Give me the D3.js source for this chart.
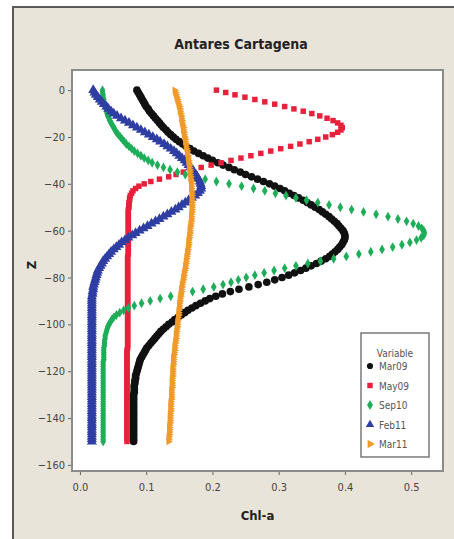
<!DOCTYPE html>
<html>
<head>
<meta charset="UTF-8">
<script src="https://d3js.org/d3.v7.min.js"></script>
<style>
  body { margin: 0; background: #fff; }
  text { font-family: "Liberation Sans Narrow", "DejaVu Sans Condensed", sans-serif; }
</style>
</head>
<body>
<svg id="chart" width="454" height="539"></svg>
<script>
// depth below surface (m), plotted as negative Z
var depth = [
  0,1,2,3,4,5,6,7,8,9, 10,11,12,13,14,15,16,17,18,19,
  20,21,22,23,24,25,26,27,28,29, 30,31,32,33,34,35,36,37,38,39,
  40,41,42,43,44,45,46,47,48,49, 50,51,52,53,54,55,56,57,58,59,
  60,61,62,63,64,65,66,67,68,69, 70,71,72,73,74,75,76,77,78,79,
  80,81,82,83,84,85,86,87,88,89, 90,91,92,93,94,95,96,97,98,99,
  100,101,102,103,104,105,106,107,108,109, 110,111,112,113,114,115,116,117,118,119,
  120,121,122,123,124,125,126,127,128,129, 130,131,132,133,134,135,136,137,138,139,
  140,141,142,143,144,145,146,147,148,149, 150
];

var mar09 = [
  .086,.088,.090,.092,.094,.096,.098,.100,.103,.105,
  .108,.111,.114,.117,.120,.123,.126,.130,.133,.137,
  .141,.145,.150,.155,.160,.166,.172,.179,.186,.193,
  .200,.208,.216,.225,.233,.242,.250,.259,.268,.277,
  .286,.294,.302,.309,.316,.323,.330,.337,.343,.349,
  .355,.361,.366,.371,.376,.380,.384,.388,.391,.394,
  .397,.399,.400,.400,.399,.397,.395,.392,.389,.385,
  .381,.377,.371,.364,.357,.349,.341,.333,.324,.315,
  .305,.294,.282,.269,.255,.240,.227,.215,.205,.196,
  .189,.182,.175,.169,.163,.158,.153,.148,.143,.139,
  .134,.130,.126,.122,.119,.116,.113,.110,.107,.104,
  .101,.099,.097,.095,.093,.091,.090,.089,.088,.087,
  .086,.085,.084,.084,.083,.083,.082,.082,.082,.082,
  .081,.081,.081,.081,.081,.081,.081,.081,.081,.081,
  .081,.081,.081,.081,.081,.081,.081,.081,.081,.081,
  .081
];

var may09 = [
  .206,.220,.234,.249,.264,.279,.294,.309,.323,.337,
  .350,.362,.373,.382,.389,.394,.396,.394,.389,.381,
  .371,.359,.346,.332,.318,.303,.288,.273,.258,.243,
  .228,.213,.198,.183,.169,.156,.145,.134,.120,.107,
  .097,.089,.084,.080,.078,.076,.075,.075,.074,.074,
  .074,.073,.073,.073,.073,.073,.073,.073,.073,.073,
  .073,.073,.073,.073,.073,.073,.073,.073,.073,.073,
  .073,.072,.072,.072,.072,.072,.072,.072,.072,.072,
  .072,.072,.072,.072,.072,.072,.072,.072,.072,.072,
  .072,.072,.072,.072,.072,.072,.072,.072,.072,.072,
  .072,.072,.072,.072,.072,.072,.072,.072,.072,.072,
  .072,.071,.071,.071,.071,.071,.071,.071,.071,.071,
  .071,.071,.071,.071,.071,.071,.071,.071,.071,.071,
  .071,.071,.071,.071,.071,.071,.071,.071,.071,.071,
  .071,.071,.071,.071,.071,.071,.071,.071,.071,.071,
  .071
];

var sep10 = [
  .034,.034,.035,.035,.036,.036,.037,.038,.039,.040,
  .041,.042,.044,.045,.047,.049,.051,.053,.055,.058,
  .061,.064,.067,.070,.074,.078,.082,.087,.092,.097,
  .103,.109,.117,.126,.136,.147,.159,.173,.189,.206,
  .225,.244,.262,.279,.295,.311,.326,.342,.359,.376,
  .393,.410,.428,.447,.465,.480,.493,.503,.511,.516,
  .519,.520,.519,.515,.508,.498,.486,.472,.456,.439,
  .421,.402,.383,.363,.344,.326,.309,.293,.278,.264,
  .251,.239,.228,.216,.202,.186,.170,.153,.137,.121,
  .106,.093,.082,.073,.066,.060,.055,.051,.048,.046,
  .044,.042,.041,.040,.039,.038,.038,.037,.037,.037,
  .036,.036,.036,.036,.036,.036,.035,.035,.035,.035,
  .035,.035,.035,.035,.035,.035,.035,.035,.035,.035,
  .035,.035,.035,.035,.035,.035,.035,.035,.035,.035,
  .035,.035,.035,.035,.035,.035,.035,.035,.035,.035,
  .035
];

var feb11 = [
  .020,.022,.024,.027,.030,.033,.036,.040,.043,.047,
  .051,.056,.062,.068,.074,.080,.086,.092,.098,.104,
  .110,.116,.121,.127,.132,.137,.142,.146,.150,.154,
  .158,.161,.164,.167,.170,.172,.175,.177,.179,.181,
  .182,.183,.183,.181,.178,.174,.169,.164,.159,.154,
  .149,.144,.138,.132,.126,.120,.114,.108,.102,.096,
  .090,.084,.079,.073,.068,.063,.059,.055,.051,.047,
  .044,.041,.038,.035,.033,.031,.029,.027,.026,.025,
  .024,.023,.022,.021,.020,.020,.019,.019,.018,.018,
  .018,.018,.018,.018,.018,.018,.018,.018,.018,.018,
  .018,.018,.018,.018,.018,.018,.018,.018,.018,.018,
  .018,.018,.018,.018,.018,.018,.018,.018,.018,.018,
  .018,.018,.018,.018,.018,.018,.018,.018,.018,.018,
  .018,.018,.018,.018,.018,.018,.018,.018,.018,.018,
  .018,.018,.018,.018,.018,.018,.018,.018,.018,.018,
  .018
];

var mar11 = [
  .143,.144,.145,.146,.147,.148,.149,.150,.151,.151,
  .152,.153,.153,.154,.154,.155,.156,.156,.157,.157,
  .158,.159,.159,.160,.160,.161,.162,.162,.163,.163,
  .164,.164,.165,.165,.166,.166,.166,.167,.167,.168,
  .168,.168,.168,.169,.169,.169,.169,.169,.169,.169,
  .169,.169,.169,.168,.168,.168,.168,.167,.167,.166,
  .166,.166,.165,.165,.164,.164,.164,.163,.163,.162,
  .162,.161,.161,.160,.160,.159,.159,.158,.157,.157,
  .156,.156,.155,.154,.154,.153,.153,.152,.152,.151,
  .151,.150,.150,.150,.149,.149,.149,.148,.148,.147,
  .147,.147,.146,.146,.145,.145,.145,.144,.144,.143,
  .143,.143,.142,.142,.141,.141,.141,.141,.140,.140,
  .140,.140,.140,.139,.139,.139,.139,.139,.138,.138,
  .138,.138,.138,.137,.137,.137,.137,.137,.136,.136,
  .136,.136,.136,.135,.135,.135,.135,.135,.134,.134,
  .134
];

var seriesNames = ["Mar09", "May09", "Sep10", "Feb11", "Mar11"];
var xTicks = [0, 0.1, 0.2, 0.3, 0.4, 0.5];
var yTicks = [0, -20, -40, -60, -80, -100, -120, -140, -160];

var colors = ["#111111", "#e8203c", "#1ead59", "#2f3ea3", "#f09a2c"];
var shapes = [d3.symbolCircle, d3.symbolSquare, d3.symbolDiamond, d3.symbolTriangle, d3.symbolTriangle];
var sizes = [46, 30, 28, 44, 24];
var allSeries = [mar09, may09, sep10, feb11, mar11];

var svg = d3.select("#chart");

// outer beige panel
svg.append("rect")
    .attr("x", 13).attr("y", 7)
    .attr("width", 450).attr("height", 540)
    .attr("fill", "#e9e4da")
    .attr("stroke", "#5a5a5a")
    .attr("stroke-width", 2);

var plotL = 72, plotR = 443, plotT = 70, plotB = 471;

var x = d3.scaleLinear().domain([-0.012, 0.548]).range([plotL, plotR]);
var y = d3.scaleLinear().domain([8.6, -162.6]).range([plotT, plotB]);

// plot area
svg.append("rect")
    .attr("x", plotL).attr("y", plotT)
    .attr("width", plotR - plotL).attr("height", plotB - plotT)
    .attr("fill", "#ffffff")
    .attr("stroke", "#8c8c8c")
    .attr("stroke-width", 2);

// title
svg.append("text")
    .attr("x", 241).attr("y", 49)
    .attr("text-anchor", "middle")
    .style("font-size", "14px")
    .style("font-weight", "bold")
    .attr("fill", "#222")
    .text("Antares Cartagena");

// axes
var yAxis = d3.axisLeft(y).tickValues(yTicks).tickSize(3).tickPadding(3).tickFormat(d3.format("d"));
var xAxis = d3.axisBottom(x).tickValues(xTicks).tickSize(3).tickPadding(8).tickFormat(d3.format(".1f"));

var gy = svg.append("g").attr("transform", "translate(" + (plotL - 1) + ",0)").call(yAxis);
var gx = svg.append("g").attr("transform", "translate(0," + (plotB + 1) + ")").call(xAxis);

[gx, gy].forEach(function (g) {
    g.select(".domain").remove();
    g.selectAll(".tick line").attr("stroke", "#666");
    g.selectAll(".tick text")
        .attr("fill", "#444")
        .style("font-size", "11px")
        .style("font-family", "'Liberation Sans Narrow', 'DejaVu Sans Condensed', sans-serif");
});

// axis labels
svg.append("text")
    .attr("x", (plotL + plotR) / 2).attr("y", 520)
    .attr("text-anchor", "middle")
    .style("font-size", "13px")
    .style("font-weight", "bold")
    .attr("fill", "#222")
    .text("Chl-a");

svg.append("text")
    .attr("transform", "translate(36,265) rotate(-90)")
    .attr("text-anchor", "middle")
    .style("font-size", "13px")
    .style("font-weight", "bold")
    .attr("fill", "#222")
    .text("Z");

// data points
allSeries.forEach(function (vals, i) {
    var sym = d3.symbol().type(shapes[i]).size(sizes[i]);
    svg.append("g")
        .selectAll("path")
        .data(vals)
        .join("path")
        .attr("d", sym)
        .attr("fill", colors[i])
        .attr("transform", function (v, j) {
            var r = i === 4 ? " rotate(90)" : "";
            return "translate(" + x(v) + "," + y(-depth[j]) + ")" + r;
        });
});

// legend
var lg = svg.append("g");
lg.append("rect")
    .attr("x", 361).attr("y", 333)
    .attr("width", 68).attr("height", 124)
    .attr("fill", "#ffffff")
    .attr("stroke", "#7a7a7a")
    .attr("stroke-width", 1.5);

lg.append("text")
    .attr("x", 395).attr("y", 357)
    .attr("text-anchor", "middle")
    .style("font-size", "10px")
    .attr("fill", "#555")
    .text("Variable");

seriesNames.forEach(function (name, i) {
    var cy = 366 + i * 19.5;
    var r = i === 4 ? " rotate(90)" : "";
    lg.append("path")
        .attr("d", d3.symbol().type(shapes[i]).size(30))
        .attr("fill", colors[i])
        .attr("transform", "translate(370," + cy + ")" + r);
    lg.append("text")
        .attr("x", 379).attr("y", cy + 4)
        .style("font-size", "10px")
        .attr("fill", "#555")
        .text(name);
});
</script>
</body>
</html>
